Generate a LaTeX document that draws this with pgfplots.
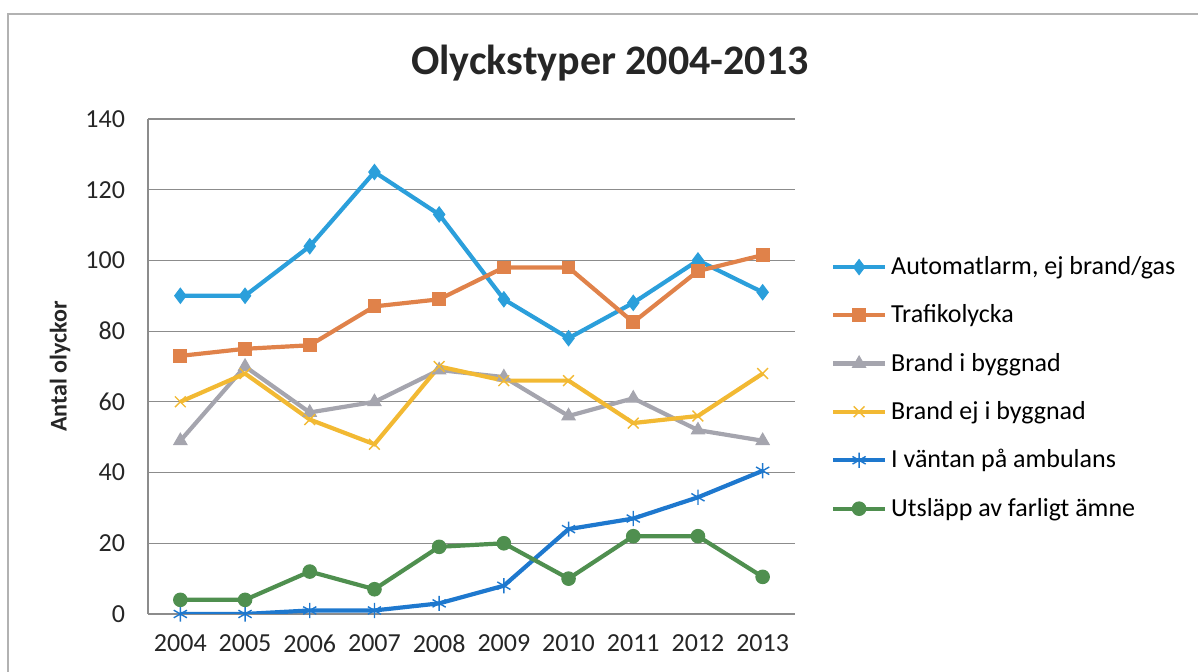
\documentclass[border=0pt]{standalone}
\usepackage{pgfplots}
\pgfplotsset{compat=1.18}
\usepackage{fontspec}
\setmainfont{Carlito}
\definecolor{cA}{HTML}{2B9FDB}
\definecolor{cB}{HTML}{E0824A}
\definecolor{cC}{HTML}{A5A5AE}
\definecolor{cD}{HTML}{F2B933}
\definecolor{cE}{HTML}{1E78CE}
\definecolor{cF}{HTML}{4F8F4F}
\definecolor{gridc}{HTML}{8C8C8C}
\begin{document}
\begin{tikzpicture}
\useasboundingbox (0,0) rectangle (599pt,336pt);
\draw[gray!60, line width=0.6pt] (4pt,0) -- (4pt,329pt) -- (599pt,329pt);
\begin{axis}[
  at={(74pt,29pt)}, anchor=south west,
  scale only axis, width=323.5pt, height=247.5pt,
  xmin=-0.5, xmax=9.5, ymin=0, ymax=140,
  xtick={0,...,9},
  xticklabels={2004,2005,2006,2007,2008,2009,2010,2011,2012,2013},
  ytick={0,20,...,140},
  ymajorgrids, grid style={gridc, line width=0.6pt},
  axis x line*=bottom, axis y line*=left,
  axis line style={gridc, line width=0.6pt, -},
  major tick length=0pt,
  tick label style={font=\fontsize{13}{15}\selectfont, text=black!85},
  /pgf/number format/assume math mode=true,
  /pgf/number format/1000 sep={},
  yticklabel style={xshift=-8pt},
  xticklabel style={yshift=-7pt},
  ylabel={\bfseries Antal olyckor},
  ylabel style={at={(axis description cs:-0.136,0.5)}, anchor=center, font=\fontsize{12}{14}\selectfont, text=black!85},
  title={\bfseries Olyckstyper 2004-2013},
  title style={at={(axis description cs:0.714,1.089)}, anchor=center, font=\fontsize{21}{24}\selectfont, text=black!85},
  legend style={at={(axis description cs:1.055,0.731)}, anchor=north west, draw=none, fill=none,
    font=\fontsize{13}{15}\selectfont, row sep=9.6pt, inner sep=0pt,
    /tikz/every even column/.append style={column sep=2pt}},
  legend cell align=left,
  legend image code/.code={\draw[mark repeat=2,mark phase=2] plot coordinates {(0pt,0pt) (13pt,0pt) (26pt,0pt)};},
  every axis plot/.append style={line width=2.1pt},
]
\addplot[cA, mark=diamond*, mark size=3.8pt, mark options={solid, line width=0.5pt, fill=cA}] coordinates {
(0,90) (1,90) (2,104) (3,125) (4,113) (5,89) (6,78) (7,88) (8,100) (9,91)};
\addlegendentry{Automatlarm, ej brand/gas}
\addplot[cB, mark=square*, mark size=3.2pt, mark options={solid, line width=0.5pt, fill=cB}] coordinates {
(0,73) (1,75) (2,76) (3,87) (4,89) (5,98) (6,98) (7,82.5) (8,97) (9,101.5)};
\addlegendentry{Trafikolycka}
\addplot[cC, mark=triangle*, mark size=3.8pt, mark options={solid, line width=0.5pt, fill=cC}] coordinates {
(0,49) (1,70) (2,57) (3,60) (4,69) (5,67) (6,56) (7,61) (8,52) (9,49)};
\addlegendentry{Brand i byggnad}
\addplot[cD, mark=x, mark size=3.8pt, mark options={solid, line width=0.7pt}] coordinates {
(0,60) (1,68) (2,55) (3,48) (4,70) (5,66) (6,66) (7,54) (8,56) (9,68)};
\addlegendentry{Brand ej i byggnad}
\addplot[cE, mark=asterisk, mark size=3.8pt, mark options={solid, line width=0.7pt}] coordinates {
(0,0) (1,0) (2,1) (3,1) (4,3) (5,8) (6,24) (7,27) (8,33) (9,40.5)};
\addlegendentry{I väntan på ambulans}
\addplot[cF, mark=*, mark size=3.4pt, mark options={solid, line width=0.5pt, fill=cF}] coordinates {
(0,4) (1,4) (2,12) (3,7) (4,19) (5,20) (6,10) (7,22) (8,22) (9,10.5)};
\addlegendentry{Utsläpp av farligt ämne}
\end{axis}
\end{tikzpicture}
\end{document}
